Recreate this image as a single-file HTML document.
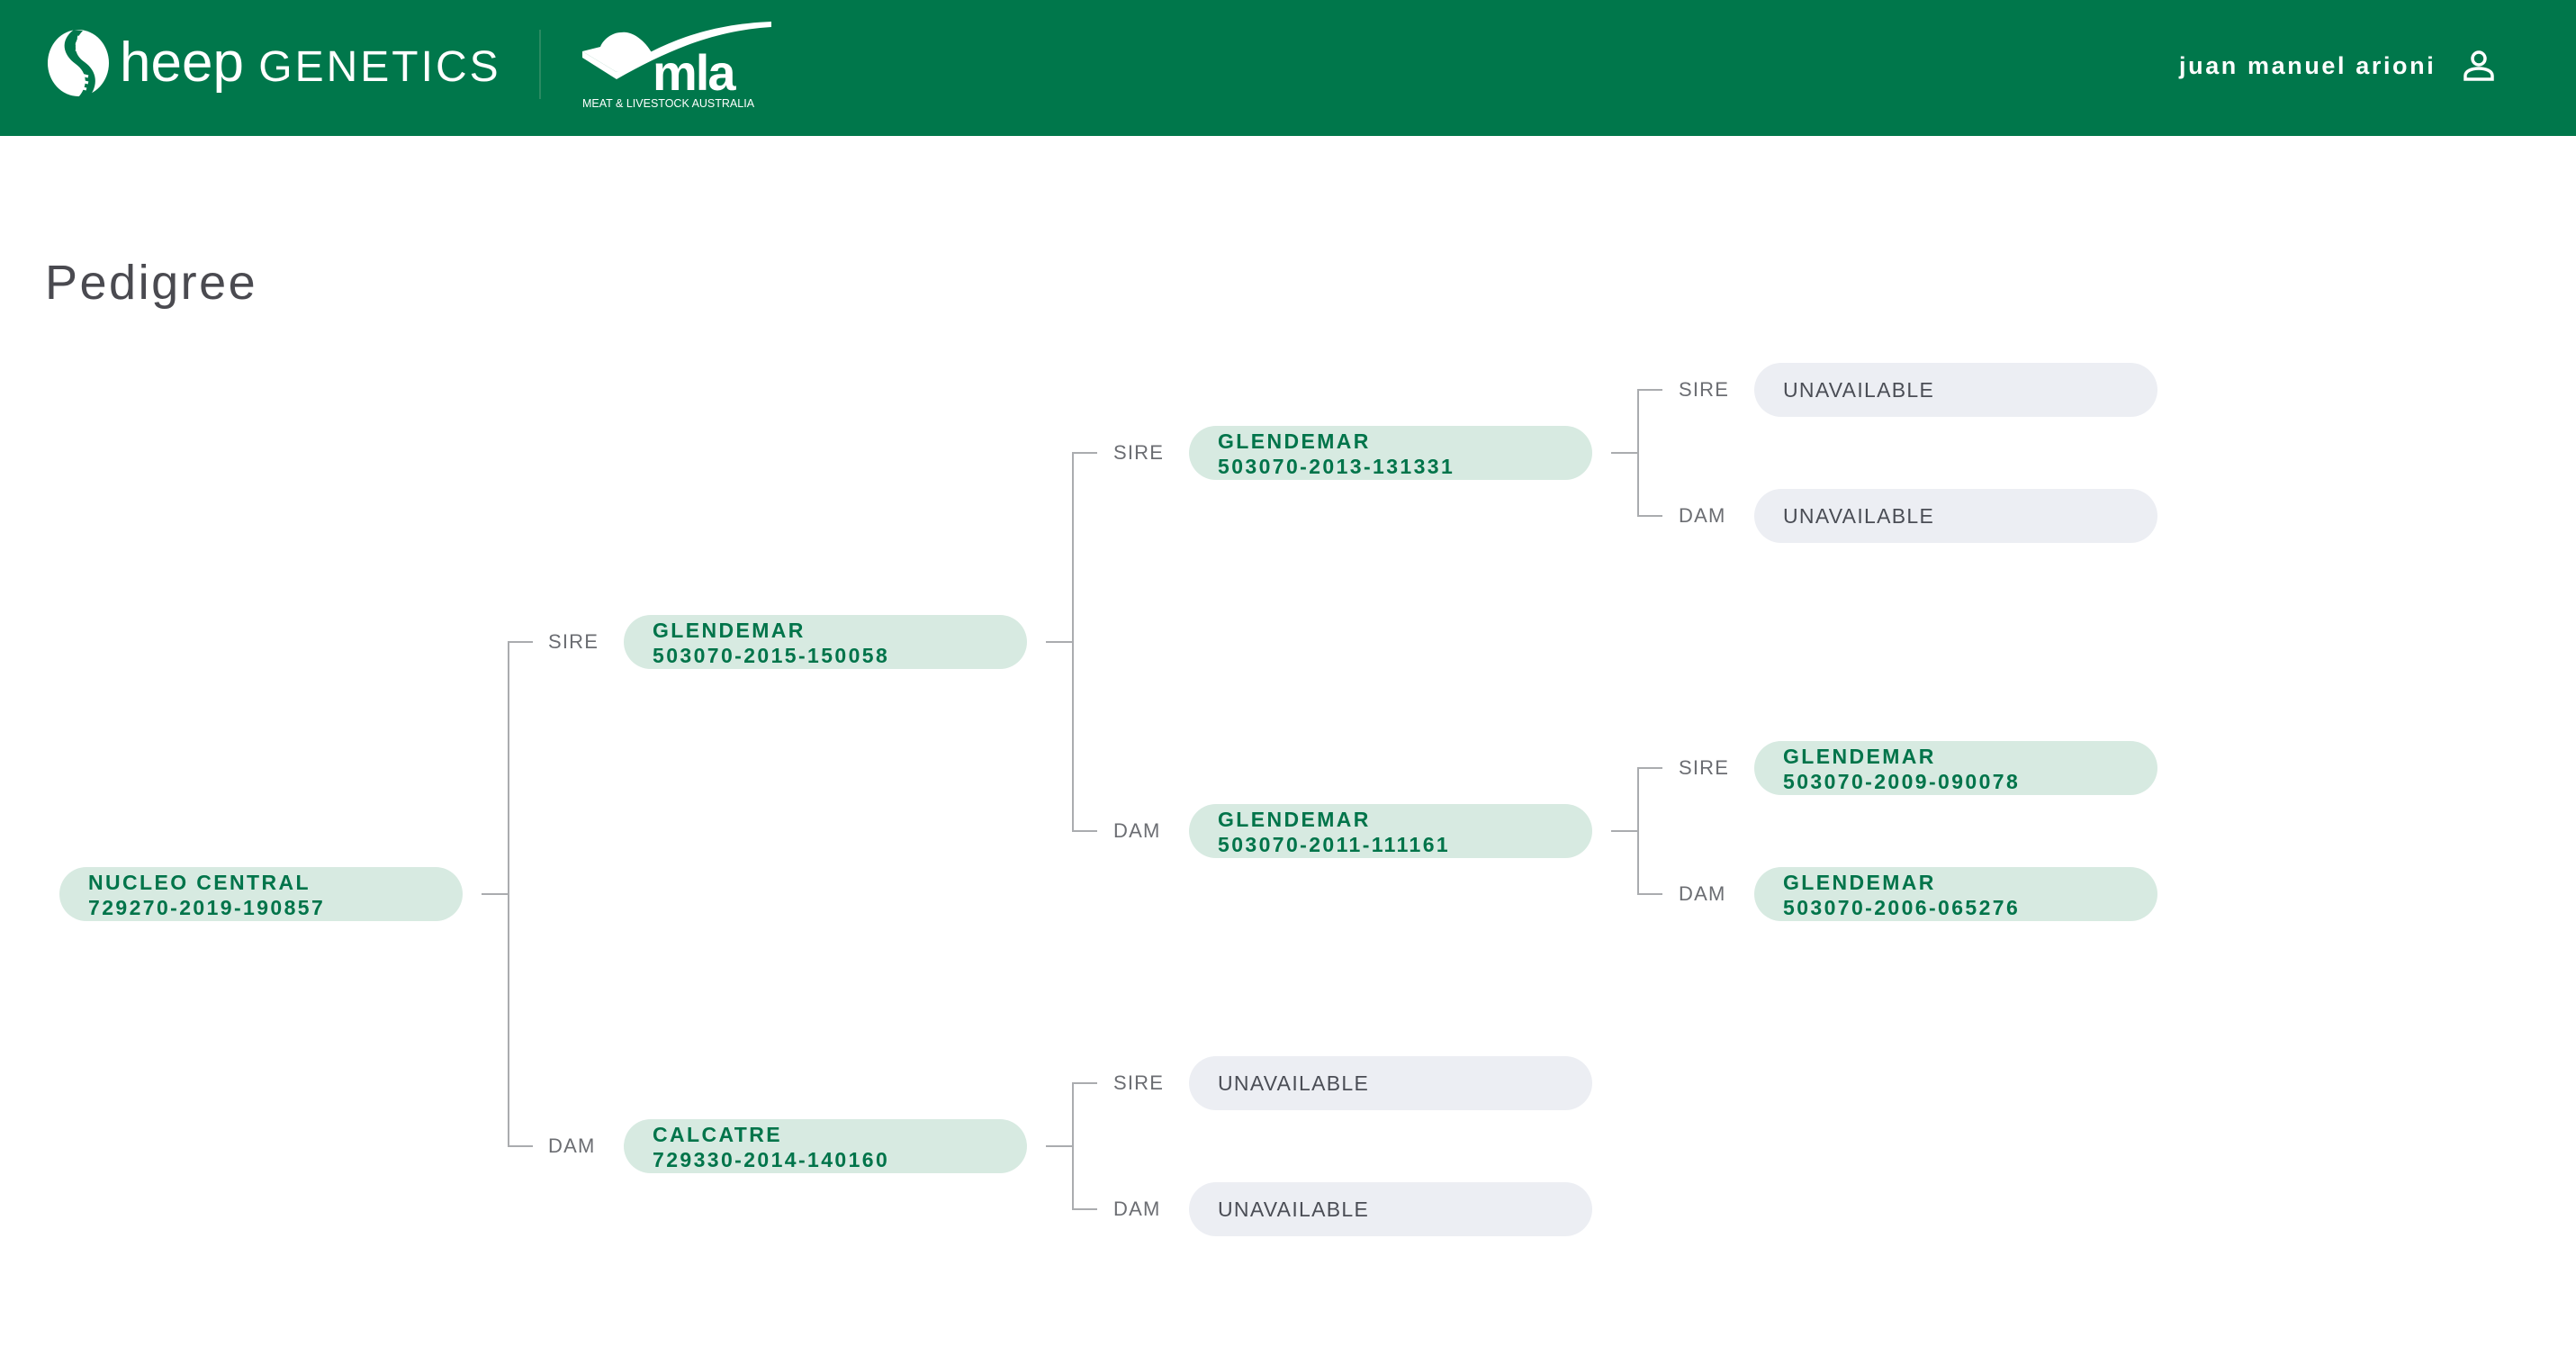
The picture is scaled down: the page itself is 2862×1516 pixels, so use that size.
<!DOCTYPE html>
<html><head><meta charset="utf-8"><style>
*{margin:0;padding:0;box-sizing:border-box}
body{width:2862px;height:1516px;background:#fff;position:relative;overflow:hidden;font-family:"Liberation Sans",sans-serif}
.hdr{position:absolute;left:0;top:0;width:2862px;height:151px;background:#00774b}
.abs{position:absolute}
.node{position:absolute;width:448px;height:60px;border-radius:30px;background:#d7eae1;color:#00744a;font-weight:bold;font-size:23px;line-height:28px;letter-spacing:2.4px;padding:3px 0 0 32px}
.un{position:absolute;width:448px;height:60px;border-radius:30px;background:#eceef3;color:#4a4d55;font-size:23px;letter-spacing:1.3px;line-height:60px;padding-left:32px}
.lab{position:absolute;font-size:22px;color:#6b6d72;letter-spacing:1.2px;line-height:30px}
.h{position:absolute;height:2px;background:#aaacaf}
.v{position:absolute;width:2px;background:#aaacaf}
</style></head><body>
<div class="hdr"></div>
<svg class="abs" style="left:48px;top:31px" width="80" height="80" viewBox="0 0 80 80">
<ellipse cx="39" cy="39" rx="34" ry="37" fill="#fff"/>
<path d="M34 2 C18 14 22 30 36 40 C50 50 50 66 38 78 L50 78 C62 64 60 48 46 38 C34 30 32 16 44 3 Z" fill="#00774b"/>
<path d="M38 10 L46 12 M36 17 L44 19 M36 24 L44 26 M42 52 L50 54 M42 59 L50 61 M40 66 L48 68" stroke="#fff" stroke-width="3"/>
</svg>
<div class="abs" style="left:133px;top:30px;color:#fff;font-size:62px;line-height:80px;font-weight:normal;letter-spacing:0px">heep<span style="font-size:48px;letter-spacing:3px"> GENETICS</span></div>
<div class="abs" style="left:599px;top:33px;width:2px;height:77px;background:#2a8a62"></div>
<svg class="abs" style="left:645px;top:22px" width="215" height="102" viewBox="0 0 215 102">
<path d="M2 35 L40 58 L80 38 C70 20 55 12 45 14 C35 14 25 22 22 30 Z" fill="#fff"/>
<path d="M2 35 L40 58 C90 25 140 5 212 2 L212 8 C150 12 100 32 40 66 L2 42 Z" fill="#fff"/>
<text x="80" y="78" font-family="Liberation Sans" font-weight="bold" font-size="56" fill="#fff" letter-spacing="-2">mla</text>
<text x="2" y="97" font-family="Liberation Sans" font-size="12.5" fill="#fff">MEAT &amp; LIVESTOCK AUSTRALIA</text>
</svg>
<div class="abs" style="left:2421px;top:56px;color:#fff;font-weight:bold;font-size:27px;letter-spacing:2.6px;line-height:34px">juan manuel arioni</div>
<svg class="abs" style="left:2736px;top:55px" width="36" height="36" viewBox="0 0 36 36" fill="none" stroke="#fff" stroke-width="3.5">
<circle cx="18" cy="10" r="7"/><path d="M3 33 L3 29 C3 24 10 21 18 21 C26 21 33 24 33 29 L33 33 Z"/>
</svg>
<div class="abs" style="left:50px;top:282px;font-size:54px;letter-spacing:2.5px;color:#4a4a50;line-height:64px">Pedigree</div>

<!-- gen1 -->
<div class="node" style="left:66px;top:963px">NUCLEO CENTRAL<br>729270-2019-190857</div>
<div class="h" style="left:535px;top:992px;width:30px"></div>
<div class="v" style="left:564px;top:712px;height:562px"></div>
<div class="h" style="left:564px;top:712px;width:28px"></div>
<div class="h" style="left:564px;top:1272px;width:28px"></div>
<div class="lab" style="left:609px;top:698px">SIRE</div>
<div class="lab" style="left:609px;top:1258px">DAM</div>

<!-- gen2 -->
<div class="node" style="left:693px;top:683px">GLENDEMAR<br>503070-2015-150058</div>
<div class="node" style="left:693px;top:1243px">CALCATRE<br>729330-2014-140160</div>
<div class="h" style="left:1162px;top:712px;width:30px"></div>
<div class="v" style="left:1191px;top:502px;height:422px"></div>
<div class="h" style="left:1191px;top:502px;width:28px"></div>
<div class="h" style="left:1191px;top:922px;width:28px"></div>
<div class="h" style="left:1162px;top:1272px;width:30px"></div>
<div class="v" style="left:1191px;top:1202px;height:142px"></div>
<div class="h" style="left:1191px;top:1202px;width:28px"></div>
<div class="h" style="left:1191px;top:1342px;width:28px"></div>
<div class="lab" style="left:1237px;top:488px">SIRE</div>
<div class="lab" style="left:1237px;top:908px">DAM</div>
<div class="lab" style="left:1237px;top:1188px">SIRE</div>
<div class="lab" style="left:1237px;top:1328px">DAM</div>

<!-- gen3 -->
<div class="node" style="left:1321px;top:473px">GLENDEMAR<br>503070-2013-131331</div>
<div class="node" style="left:1321px;top:893px">GLENDEMAR<br>503070-2011-111161</div>
<div class="un" style="left:1321px;top:1173px">UNAVAILABLE</div>
<div class="un" style="left:1321px;top:1313px">UNAVAILABLE</div>
<div class="h" style="left:1790px;top:502px;width:30px"></div>
<div class="v" style="left:1819px;top:432px;height:142px"></div>
<div class="h" style="left:1819px;top:432px;width:28px"></div>
<div class="h" style="left:1819px;top:572px;width:28px"></div>
<div class="h" style="left:1790px;top:922px;width:30px"></div>
<div class="v" style="left:1819px;top:852px;height:142px"></div>
<div class="h" style="left:1819px;top:852px;width:28px"></div>
<div class="h" style="left:1819px;top:992px;width:28px"></div>
<div class="lab" style="left:1865px;top:418px">SIRE</div>
<div class="lab" style="left:1865px;top:558px">DAM</div>
<div class="lab" style="left:1865px;top:838px">SIRE</div>
<div class="lab" style="left:1865px;top:978px">DAM</div>

<!-- gen4 -->
<div class="un" style="left:1949px;top:403px">UNAVAILABLE</div>
<div class="un" style="left:1949px;top:543px">UNAVAILABLE</div>
<div class="node" style="left:1949px;top:823px">GLENDEMAR<br>503070-2009-090078</div>
<div class="node" style="left:1949px;top:963px">GLENDEMAR<br>503070-2006-065276</div>
</body></html>
